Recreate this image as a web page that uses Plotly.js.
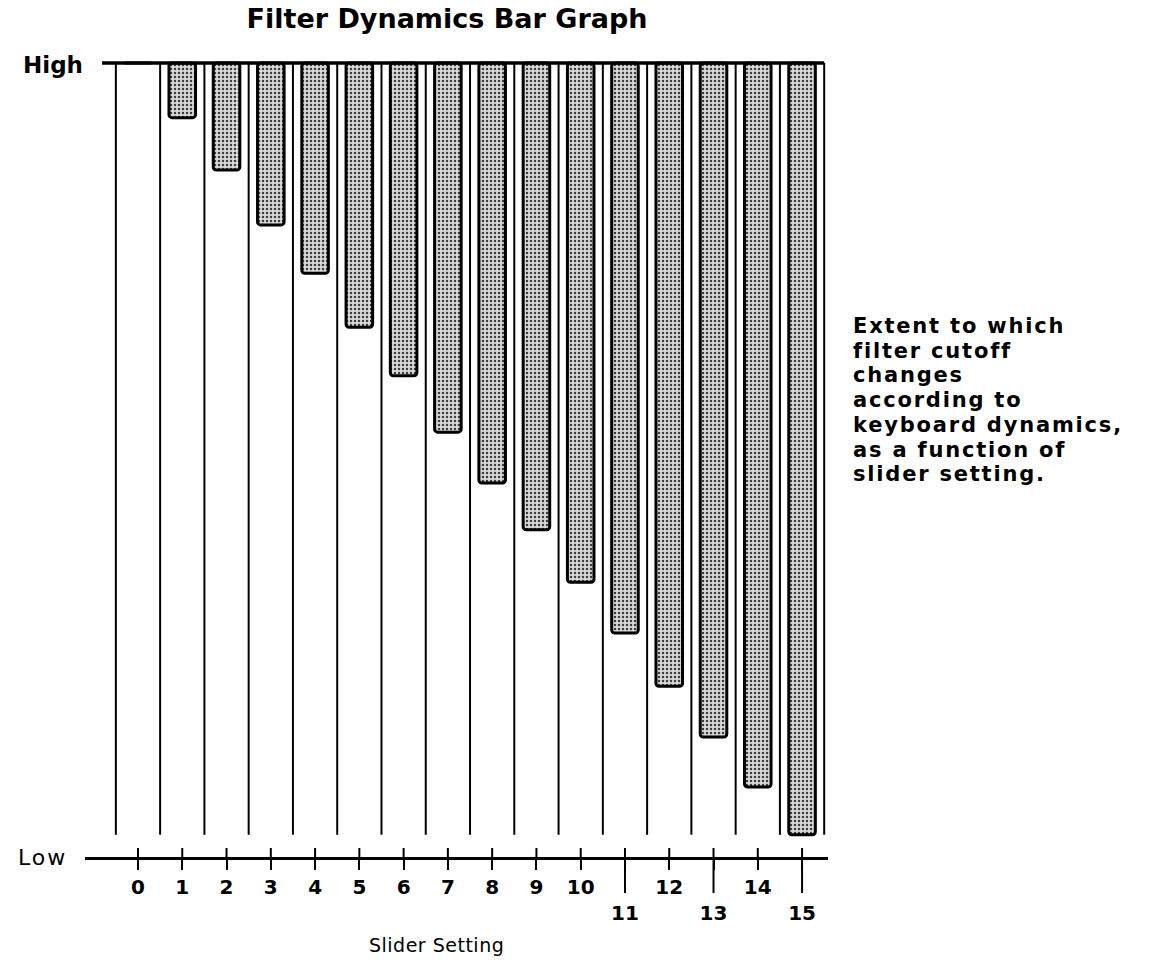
<!DOCTYPE html>
<html><head><meta charset="utf-8">
<script src="https://cdn.plot.ly/plotly-3.0.1.min.js"></script>
<style>html,body{margin:0;padding:0;background:#fff}</style>
</head><body><div id="chart" style="width:1151px;height:980px"></div>
<script>
// ---- data ----
const sliderSettings = [0,1,2,3,4,5,6,7,8,9,10,11,12,13,14,15];
const tickLabels = ['0','1','2','3','4','5','6','7','8','9','10','11','12','13','14','15'];
const staggeredTicks = [11,13,15];
// how far the filter cutoff can drop from High (0 = none, 100 = all the way to Low)
const extent = [0, 6.9, 13.5, 20.4, 26.5, 33.3, 39.4, 46.5, 52.9, 58.8, 65.4, 71.8, 78.5, 84.9, 91.2, 97.2];
const levelLabels = ['Low','High'];
const levelValues = [0, 100];
const noteLines = ['Extent to which','filter cutoff','changes','according to','keyboard dynamics,','as a function of','slider setting.'];
const chartTitle = 'Filter Dynamics Bar Graph';
const xTitle = 'Slider Setting';

// ---- layout constants ----
const FONT = 'DejaVu Sans';
const HIGH = levelValues[1], LOW = levelValues[0];
const W = 1151, H = 980;
const mL = 85, mR = 323, mT = 47, mB = 123;
const plotW = W - mL - mR;
const plotH = H - mT - mB;   // px
const pxPerY = plotH / 102;  // y range 0..102
const pyPaper = px => (H - mB - px) / plotH;
const pxPaper = px => (px - mL) / plotW;
const spaced = (t, ls) => '<span style="letter-spacing:' + ls + 'px">' + t + '</span>';

const trace = {
  type: 'bar',
  x: sliderSettings,
  y: extent.map(v => -v),
  base: HIGH,
  width: 0.6,
  marker: {
    color: '#ffffff',
    cornerradius: 3,
    line: {color: '#000', width: 3},
    pattern: {shape: '.', fgcolor: '#3c3c3c', bgcolor: '#dadada', size: 4, solidity: 0.3, fillmode: 'replace'}
  },
  hoverinfo: 'x+y'
};

const shapes = [];
// column dividers
const dividers = sliderSettings.map(s => s - 0.5).concat([sliderSettings[sliderSettings.length-1] + 0.5]);
dividers.forEach(d => shapes.push({type:'line', xref:'x', yref:'y', x0:d, x1:d, y0:2.8, y1:HIGH, line:{color:'#000', width:2}}));
// top (High) line
shapes.push({type:'line', xref:'x', yref:'y', x0:-0.81, x1:dividers[dividers.length-1], y0:HIGH, y1:HIGH, line:{color:'#000', width:3.5}});
// upward part of crossing ticks
sliderSettings.forEach(s => shapes.push({type:'line', xref:'x', yref:'y', x0:s, x1:s, y0:LOW, y1:LOW + 9/pxPerY, line:{color:'#000', width:2}}));
// longer ticks for staggered labels
staggeredTicks.forEach(s => shapes.push({type:'line', xref:'x', yref:'paper', x0:s, x1:s, y0:0, y1:-36/plotH, line:{color:'#000', width:2}}));

const annotations = [
  {text: levelLabels[1], xref:'paper', yref:'y', x:pxPaper(85), y:HIGH, yshift:-2, xanchor:'right', yanchor:'middle', showarrow:false,
   font:{family:FONT, size:23, weight:'bold', color:'#000'}},
  {text: spaced(levelLabels[0], 2), xref:'paper', yref:'y', x:pxPaper(69), y:LOW, xanchor:'right', yanchor:'middle', showarrow:false,
   font:{family:FONT, size:22, color:'#000'}},
  {text: spaced(xTitle, 0.5), xref:'paper', yref:'paper', x:pxPaper(436), y:pyPaper(945), xanchor:'center', yanchor:'middle', showarrow:false,
   font:{family:FONT, size:19, color:'#000'}}
];
noteLines.forEach((t, i) => annotations.push({
  text: spaced(t, 1.8), xref:'paper', yref:'paper', x:pxPaper(852), y:pyPaper(326 + 24.7*i), xanchor:'left', yanchor:'middle',
  showarrow:false, borderpad:0,
  font:{family:FONT, size:21, weight:'bold', color:'#000'}
}));

const layout = {
  width: W, height: H,
  margin: {l:mL, r:mR, t:mT, b:mB},
  paper_bgcolor: '#fff', plot_bgcolor: '#fff',
  showlegend: false,
  title: {text: chartTitle, xref:'container', yref:'container', x:447/W, y:1-19/H, xanchor:'center', yanchor:'middle',
          font:{family:FONT, size:27, weight:'bold', color:'#000'}},
  xaxis: {
    range: [-1.197, 15.586], showgrid:false, zeroline:false,
    showline:true, linecolor:'#000', linewidth:3,
    ticks:'outside', ticklen:10, tickwidth:2, tickcolor:'#000',
    tickvals: sliderSettings,
    ticktext: tickLabels.map((t, i) => staggeredTicks.includes(sliderSettings[i]) ? '<br>' + t : t),
    ticklabelstandoff: 0,
    tickfont: {family:FONT, size:20, weight:'bold', color:'#000'},
    fixedrange:true
  },
  yaxis: {range:[0, 102], showgrid:false, zeroline:false, showline:false, showticklabels:false, ticks:'', fixedrange:true},
  shapes: shapes,
  annotations: annotations
};

Plotly.newPlot('chart', [trace], layout, {displayModeBar:false, staticPlot:true});
</script>
</body></html>
